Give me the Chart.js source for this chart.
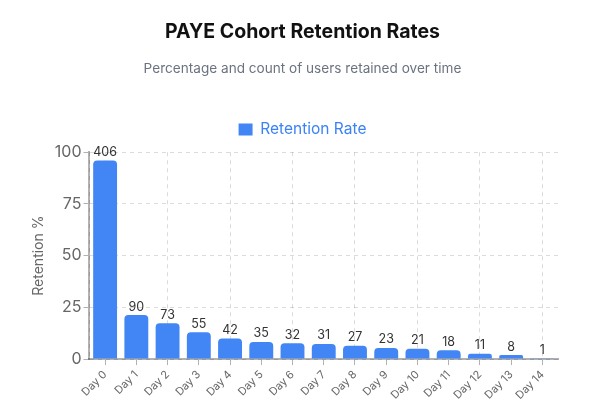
<!DOCTYPE html>
<html>
<head>
<meta charset="utf-8">
<script src="https://cdn.jsdelivr.net/npm/chart.js@4.4.1/dist/chart.umd.min.js"></script>
<style>
  html, body { margin: 0; padding: 0; background: #fff; }
  #chartContainer { width: 605px; height: 416px; }
</style>
</head>
<body>
<div id="chartContainer"><canvas id="chart"></canvas></div>
<script>
const days = ["Day 0", "Day 1", "Day 2", "Day 3", "Day 4", "Day 5", "Day 6", "Day 7",
  "Day 8", "Day 9", "Day 10", "Day 11", "Day 12", "Day 13", "Day 14"];
const retentionPct = [96.0, 21.3, 17.3, 13.0, 9.9, 8.3, 7.6, 7.3, 6.4, 5.4, 5.0, 4.3, 2.6, 1.9, 0.2];
const userCounts = [406, 90, 73, 55, 42, 35, 32, 31, 27, 23, 21, 18, 11, 8, 1];
const yTicks = [0, 25, 50, 75, 100];

const FONT = "Inter, 'Noto Sans', sans-serif";
const gridColor = "rgba(0, 0, 0, 0.14)";
const axisColor = "rgba(0, 0, 0, 0.3)";

// Draw the user count above each bar
const countLabels = {
  id: "countLabels",
  afterDatasetsDraw(chart) {
    const ctx = chart.ctx;
    const meta = chart.getDatasetMeta(0);
    ctx.save();
    ctx.font = "12.5px " + FONT;
    ctx.fillStyle = "#333";
    ctx.textAlign = "center";
    ctx.textBaseline = "bottom";
    meta.data.forEach((bar, i) => {
      ctx.fillText(String(userCounts[i]), bar.x, bar.y - 2);
    });
    ctx.restore();
  },
};

// A bit more room under the legend
const legendGap = {
  id: "legendGap",
  beforeInit(chart) {
    const origFit = chart.legend.fit;
    chart.legend.fit = function () {
      origFit.bind(chart.legend)();
      this.height += 5;
    };
  },
};

const config = {
  type: "bar",
  data: {
    labels: days,
    datasets: [
      {
        label: "Retention Rate",
        data: retentionPct,
        backgroundColor: "rgb(66, 134, 245)",
        borderRadius: 4,
        borderSkipped: "bottom",
        categoryPercentage: 0.9,
        barPercentage: 0.85,
        xAxisID: "x",
        yAxisID: "y",
      },
    ],
  },
  options: {
    responsive: true,
    maintainAspectRatio: false,
    animation: false,
    layout: { padding: { top: 20, right: 24, left: 24, bottom: 11 } },
    plugins: {
      title: {
        display: true,
        text: "PAYE Cohort Retention Rates",
        color: "#111",
        font: { family: FONT, size: 19.5, weight: "bold" },
        padding: { top: 0, bottom: 17 },
      },
      subtitle: {
        display: true,
        text: "Percentage and count of users retained over time",
        color: "#6b7280",
        font: { family: FONT, size: 13.6 },
        padding: { bottom: 32 },
      },
      legend: {
        position: "top",
        labels: {
          color: "#3b82f6",
          font: { family: FONT, size: 15.5 },
          boxWidth: 14,
          boxHeight: 12,
          padding: 13,
        },
      },
      tooltip: { enabled: false },
    },
    scales: {
      x: {
        grid: {
          offset: false,
          color: (c) => (c.index % 2 === 0 ? gridColor : "rgba(0,0,0,0)"),
          tickColor: axisColor,
          tickLength: 6,
          tickBorderDash: [],
        },
        border: { display: true, color: axisColor, width: 2, dash: [4, 4] },
        ticks: {
          color: "#666",
          font: { family: FONT, size: 11 },
          maxRotation: 45,
          minRotation: 45,
          autoSkip: false,
        },
      },
      // only carries the dashed line on the right edge of the plot
      xEdge: {
        type: "linear",
        position: "top",
        min: 0,
        max: 1,
        afterBuildTicks: (scale) => {
          scale.ticks = [{ value: 1 }];
        },
        grid: { color: gridColor, drawTicks: false },
        border: { display: false, dash: [4, 4] },
        ticks: { display: false },
      },
      y: {
        min: 0,
        max: 100,
        afterBuildTicks: (scale) => {
          scale.ticks = yTicks.map((v) => ({ value: v }));
        },
        grid: {
          color: gridColor,
          tickColor: axisColor,
          tickLength: 6,
          tickBorderDash: [],
        },
        border: { display: true, color: axisColor, width: 2, dash: [4, 4] },
        ticks: {
          color: "#666",
          font: { family: FONT, size: 16 },
          padding: 2,
        },
        title: {
          display: true,
          text: "Retention %",
          color: "#666",
          font: { family: FONT, size: 14 },
          padding: 6,
        },
      },
      // empty right gutter so the title stays centred on the page
      yGutter: {
        type: "linear",
        position: "right",
        min: 0,
        max: 100,
        grid: { display: false },
        border: { display: false },
        ticks: { display: false },
        afterFit: (scale) => {
          scale.width = 23;
        },
      },
    },
  },
  plugins: [countLabels, legendGap],
};

new Chart(document.getElementById("chart"), config);
</script>
</body>
</html>
